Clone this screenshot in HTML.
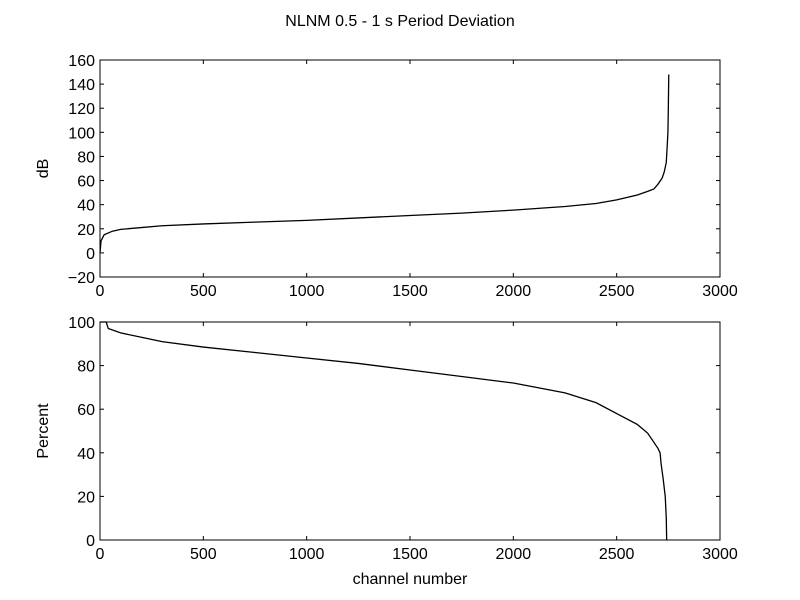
<!DOCTYPE html>
<html><head><meta charset="utf-8"><style>
body{margin:0;background:#fff}
svg{display:block;font-family:"Liberation Sans",sans-serif}
</style></head><body>
<svg id="chart" width="800" height="600">
<text x="400" y="26" text-anchor="middle" font-size="16">NLNM 0.5 - 1 s Period Deviation</text>
</svg>
<script>
const topX=[0,5,20,60,100,200,300,500,750,1000,1250,1500,1750,2000,2250,2400,2500,2600,2650,2680,2700,2720,2730,2740,2745,2748,2750,2752];
const topY=[0,10,15,18,19.5,21,22.5,24,25.5,27,29,31,33,35.5,38.5,41,44,48,51,53,57,62,67,75,90,100,120,148];
const botX=[0,30,40,100,200,300,500,750,1000,1250,1500,1750,2000,2250,2400,2500,2600,2650,2700,2710,2715,2725,2735,2740,2742];
const botY=[100,100,97,95,93,91,88.5,86,83.5,81,78,75,72,67.5,63,58,53,49,42,40,35,28,20,10,0];
const xTicks=[0,500,1000,1500,2000,2500,3000];
const topTicks=[-20,0,20,40,60,80,100,120,140,160];
const botTicks=[0,20,40,60,80,100];
const NS="http://www.w3.org/2000/svg";
const svg=document.getElementById('chart');
function mk(t,a,p){const e=document.createElementNS(NS,t);for(const k in a)e.setAttribute(k,a[k]);(p||svg).appendChild(e);return e;}
function panel(name,y0,y1,ymin,ymax,yt,xs,ys,ylabel,xlabel){
  const g=mk('g',{});
  
  
  const L=100,R=720;
  const sx=v=>L+(v-0)/3000*(R-L);
  const sy=v=>y1-(v-ymin)/(ymax-ymin)*(y1-y0);
  let d=xs.map((x,i)=>(i?'L':'M')+sx(x).toFixed(2)+' '+sy(ys[i]).toFixed(2)).join(' ');
  const line=mk('path',{d:d,fill:'none',stroke:'#000','stroke-width':1.3},g);
  
  
  const fr=mk('rect',{x:L,y:y0,width:R-L,height:y1-y0,fill:'none',stroke:'#000','stroke-width':1},g);
  
  
  xTicks.forEach(v=>{const x=sx(v);
    mk('line',{x1:x,x2:x,y1:y1,y2:y1-4,stroke:'#000'},g);
    mk('line',{x1:x,x2:x,y1:y0,y2:y0+4,stroke:'#000'},g);
    const t=mk('text',{x:x,y:y1+19,'text-anchor':'middle','font-size':16},g);t.textContent=v;
    
    
  });
  yt.forEach(v=>{const y=sy(v);
    mk('line',{x1:L,x2:L+4,y1:y,y2:y,stroke:'#000'},g);
    mk('line',{x1:R,x2:R-4,y1:y,y2:y,stroke:'#000'},g);
    const t=mk('text',{x:L-5,y:y+6,'text-anchor':'end','font-size':16},g);t.textContent=v<0?'\u2212'+(-v):v;
    
    
  });
  const yl=mk('text',{x:0,y:0,transform:`translate(48,${(y0+y1)/2}) rotate(-90)`,'text-anchor':'middle','font-size':16},g);yl.textContent=ylabel;
  
  
  if(xlabel){const xl=mk('text',{x:410,y:584,'text-anchor':'middle','font-size':16},g);xl.textContent=xlabel;
    
    }
}
panel('top-panel',60,277,-20,160,topTicks,topX,topY,'dB');
panel('bottom-panel',322,540,0,100,botTicks,botX,botY,'Percent','channel number');
</script>
</body></html>
